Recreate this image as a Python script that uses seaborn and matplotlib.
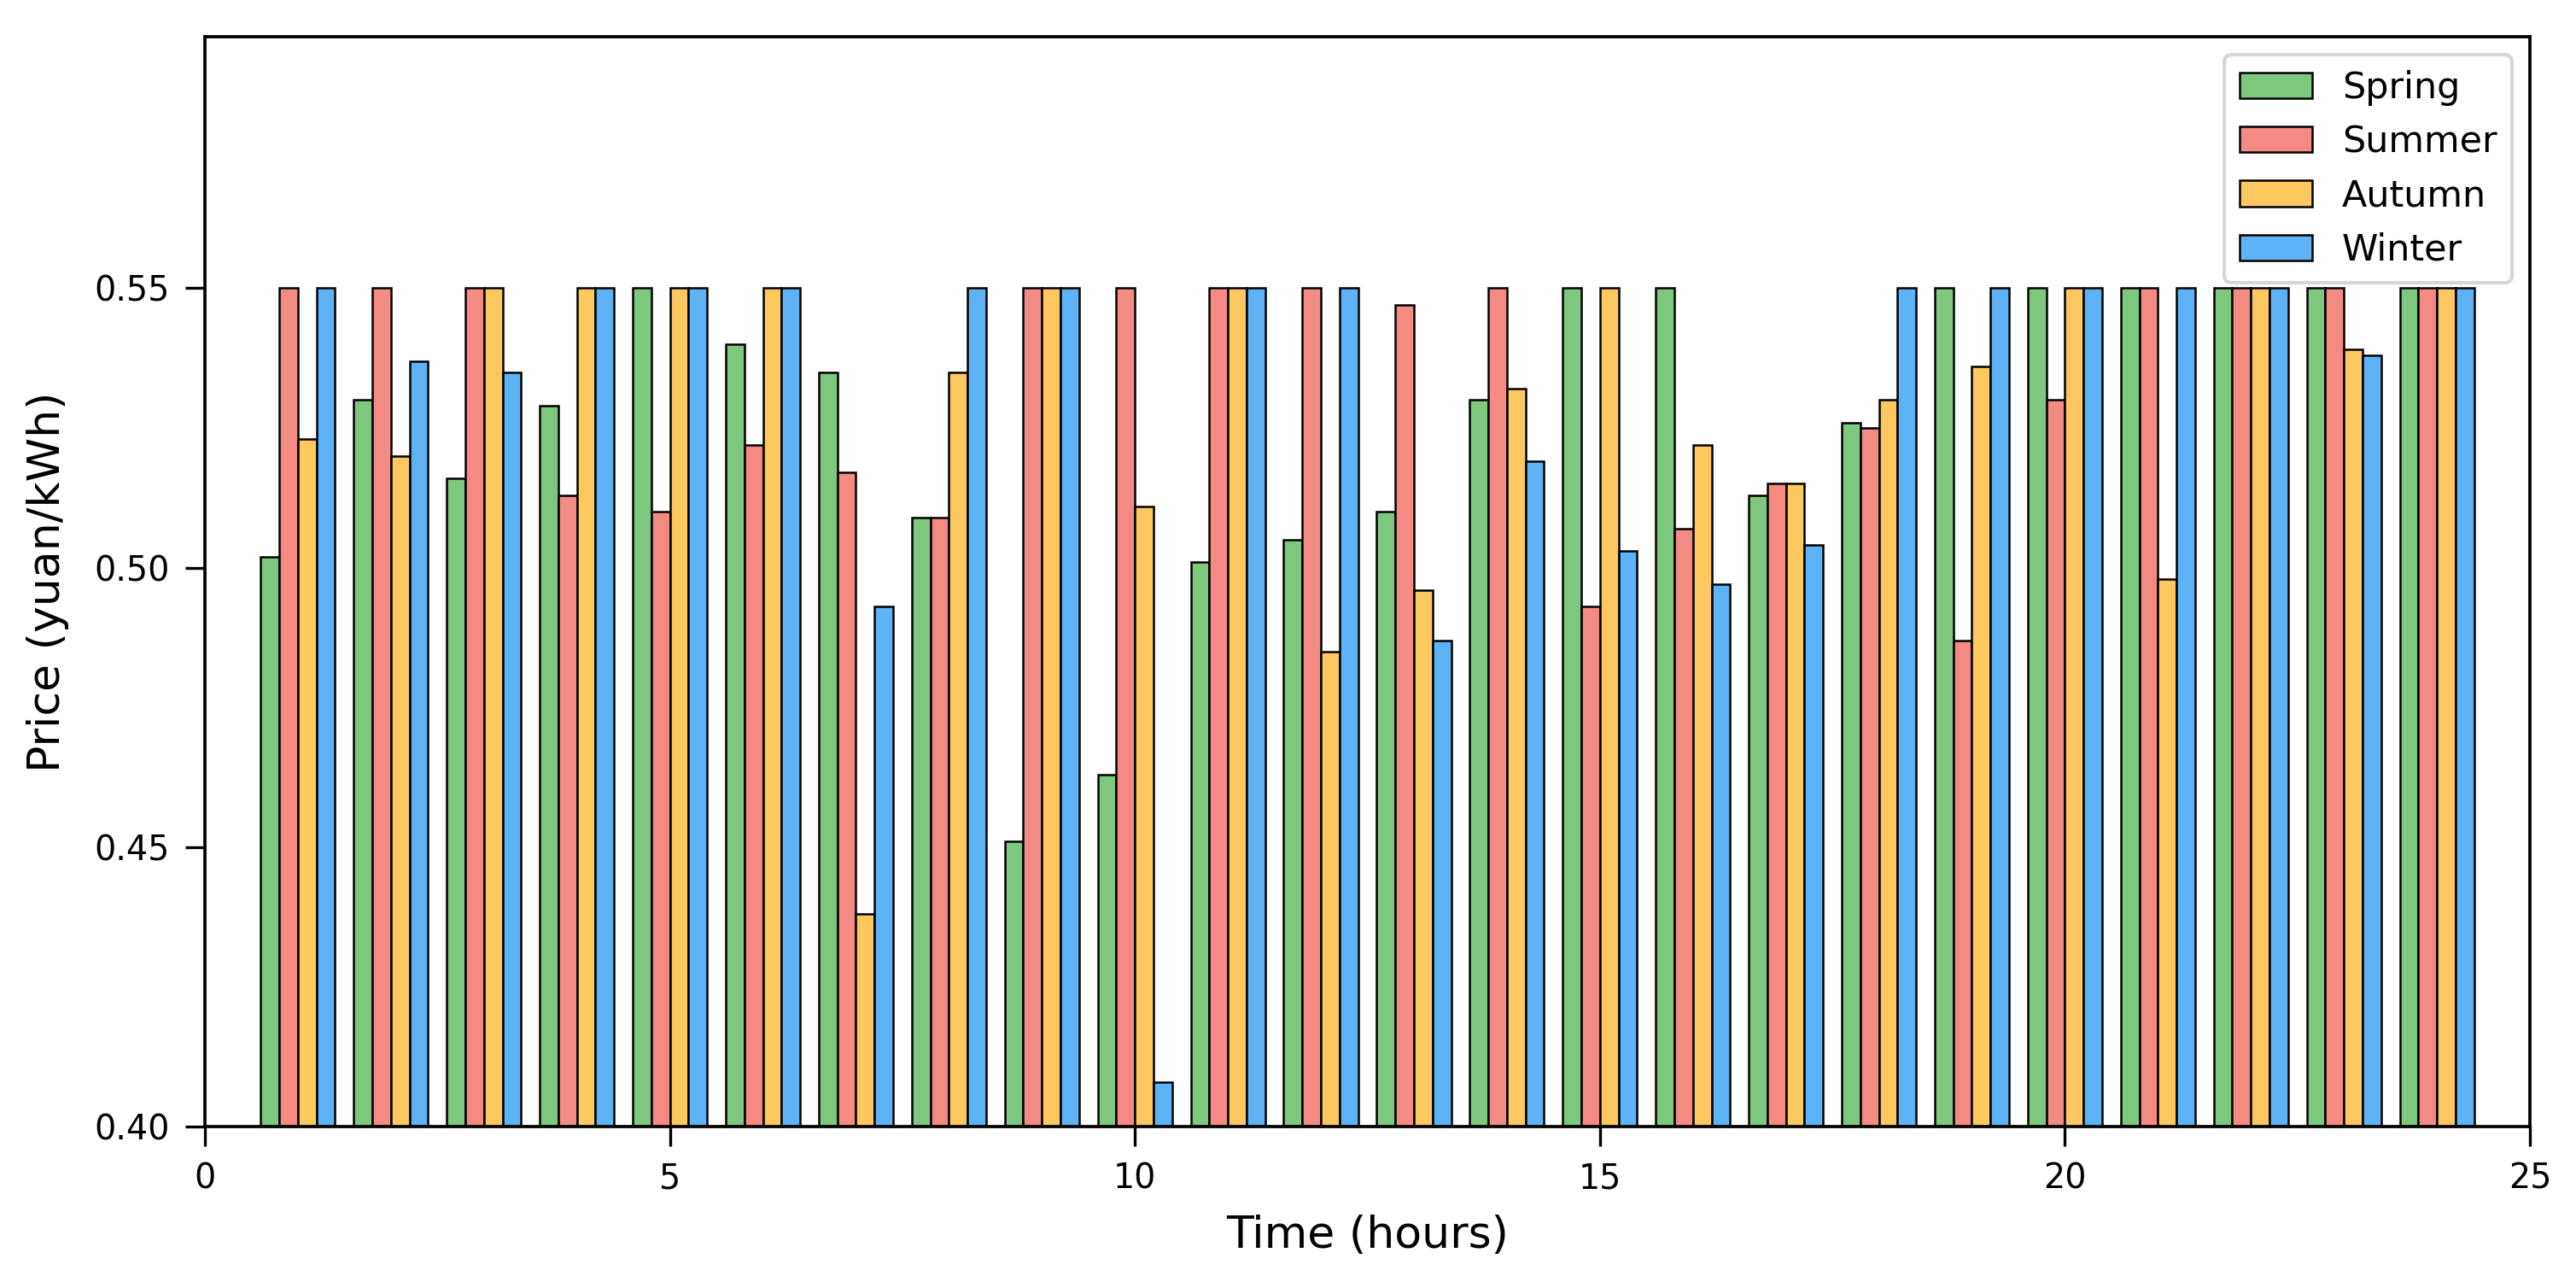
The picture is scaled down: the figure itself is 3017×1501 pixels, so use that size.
import numpy as np
import pandas as pd
import matplotlib
matplotlib.use("Agg")
import matplotlib.pyplot as plt
import seaborn as sns
from matplotlib.ticker import MultipleLocator

hours = list(range(1, 25))
seasons = ["Spring", "Summer", "Autumn", "Winter"]
spring = [0.502, 0.530, 0.516, 0.529, 0.550, 0.540, 0.535, 0.509, 0.451, 0.463, 0.501, 0.505,
          0.510, 0.530, 0.550, 0.550, 0.513, 0.526, 0.550, 0.550, 0.550, 0.550, 0.550, 0.550]
summer = [0.550, 0.550, 0.550, 0.513, 0.510, 0.522, 0.517, 0.509, 0.550, 0.550, 0.550, 0.550,
          0.547, 0.550, 0.493, 0.507, 0.515, 0.525, 0.487, 0.530, 0.550, 0.550, 0.550, 0.550]
autumn = [0.523, 0.520, 0.550, 0.550, 0.550, 0.550, 0.438, 0.535, 0.550, 0.511, 0.550, 0.485,
          0.496, 0.532, 0.550, 0.522, 0.515, 0.530, 0.536, 0.550, 0.498, 0.550, 0.539, 0.550]
winter = [0.550, 0.537, 0.535, 0.550, 0.550, 0.550, 0.493, 0.550, 0.550, 0.408, 0.550, 0.550,
          0.487, 0.519, 0.503, 0.497, 0.504, 0.550, 0.550, 0.550, 0.550, 0.550, 0.538, 0.550]
colors = ["#7DC87D", "#F38B83", "#FDC85F", "#5EB3F6"]

df = pd.DataFrame({
    "Time": hours * 4,
    "Season": sum([[s] * 24 for s in seasons], []),
    "Price": spring + summer + autumn + winter,
})

fig = plt.figure(figsize=(3017 / 300, 1501 / 300), dpi=300)
ax = fig.add_axes([240 / 3017, 1 - 1319 / 1501, (2963 - 240) / 3017, (1319 - 43) / 1501])

sns.barplot(data=df, x="Time", y="Price", hue="Season", hue_order=seasons,
            palette=colors, native_scale=True, dodge=True, width=0.8,
            saturation=1, edgecolor="black", linewidth=0.6, errorbar=None, ax=ax)

ax.set_xlim(0, 25)
ax.set_ylim(0.40, 0.595)
ax.xaxis.set_major_locator(MultipleLocator(5))
ax.yaxis.set_major_locator(MultipleLocator(0.05))
ax.yaxis.set_major_formatter(matplotlib.ticker.FormatStrFormatter("%.2f"))
ax.tick_params(labelsize=9.5, length=5.5, pad=4.5)
for s in ax.spines.values():
    s.set_linewidth(0.9)
ax.set_xlabel("Time (hours)", fontsize=12.5, labelpad=5)
ax.set_ylabel("Price (yuan/kWh)", fontsize=12.5, labelpad=7)
sns.move_legend(ax, "upper right", title=None, fontsize=10.3)

fig.savefig("out.png", dpi=300)
